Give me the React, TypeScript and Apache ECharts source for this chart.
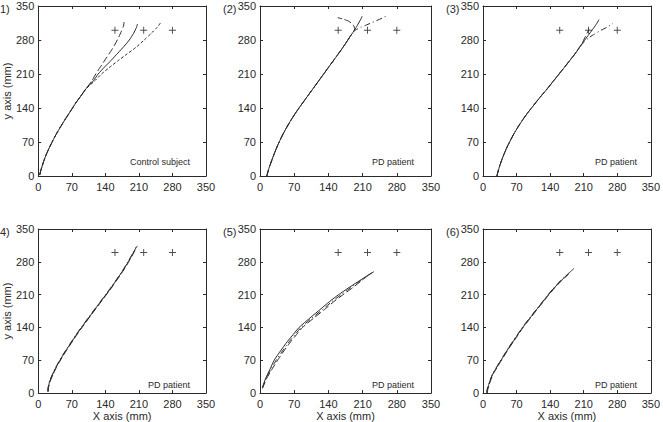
import React, { useEffect, useRef } from "react";
import * as echarts from "echarts";

// ---- tick labels / axes ----
const TICKS = [0, 70, 140, 210, 280, 350];
const PANEL_LABELS = ["1)", "(2)", "(3)", "4)", "(5)", "(6)"];
const NOTES = ["Control subject", "PD patient", "PD patient", "PD patient", "PD patient", "PD patient"];

// ---- target markers (+) ----
const targets: number[][] = [[160, 300], [220, 300], [280, 300]];

// ---- panel 1 (control subject) ----
const p1Common = [[3, 2], [5, 10], [8, 20], [12, 32], [17, 45], [23, 58], [30, 72], [38, 87], [47, 102], [57, 118], [67, 133], [78, 150], [89, 165], [100, 180]];
const p1Dashed = [[112, 196], [120, 210], [130, 225], [142, 243], [154, 261], [165, 280], [173, 297], [178, 309], [179, 317]];
const p1Solid = [[115, 196], [125, 210], [138, 224], [152, 238], [166, 253], [179, 267], [190, 280], [199, 294], [205, 306], [207, 313]];
const p1Dotted = [[117, 195], [132, 210], [148, 223], [166, 237], [185, 251], [204, 265], [221, 280], [236, 294], [248, 306], [255, 315]];

// ---- panel 2 ----
const p2Common = [[14, 0], [16, 8], [19, 18], [24, 32], [30, 48], [37, 65], [45, 82], [54, 99], [64, 116], [75, 133], [87, 150], [100, 168], [113, 186], [126, 204], [139, 222], [152, 240], [165, 258], [176, 274], [185, 288], [192, 298]];
const p2Solid = [[198, 308], [203, 317], [207, 324], [209, 329]];
const p2Dashed = [[194, 303], [192, 309], [188, 314], [181, 319], [170, 323], [159, 326]];
const p2DashDot = [[198, 302], [206, 306], [218, 311], [234, 318], [250, 325], [262, 331]];

// ---- panel 3 ----
const p3Common = [[29, 0], [31, 8], [34, 18], [38, 30], [43, 43], [49, 57], [56, 71], [64, 86], [73, 101], [83, 116], [94, 131], [106, 146], [118, 161], [131, 176], [144, 192], [157, 208], [170, 224], [182, 239], [193, 253], [202, 266]];
const p3Solid = [[210, 277], [219, 289], [228, 301], [236, 312], [242, 322]];
const p3Dashed = [[207, 274], [212, 284], [217, 294], [221, 302]];
const p3DashDot = [[209, 274], [220, 284], [232, 292], [246, 300], [258, 306], [271, 314]];

// ---- panel 4 ----
const p4Solid = [[20, 3], [20, 10], [22, 18], [25, 28], [30, 40], [36, 53], [43, 66], [51, 80], [61, 96], [72, 113], [84, 131], [96, 148], [109, 166], [122, 184], [136, 203], [150, 222], [163, 241], [175, 259], [186, 277], [196, 295], [204, 310], [207, 314]];
const p4Dashed = [[21, 3], [21, 10], [23, 18], [26, 28], [31, 40], [37, 53], [44, 66], [52, 80], [62, 96], [73, 113], [85, 131], [97, 148], [110, 166], [123, 184], [137, 203], [151, 222], [164, 241], [176, 259], [187, 277], [197, 295], [205, 311]];
const p4DashDot = [[20, 4], [21, 11], [22, 19], [25, 29], [30, 41], [36, 54], [43, 67], [51, 81], [61, 97], [72, 114], [84, 132], [96, 149], [109, 167], [122, 185], [136, 204], [150, 223], [163, 242], [175, 260], [186, 278], [196, 296], [204, 311]];

// ---- panel 5 ----
const p5Solid = [[5, 12], [11, 30], [20, 50], [29, 70], [42, 90], [56, 110], [68, 125], [80, 140], [102, 160], [125, 180], [142, 195], [161, 210], [182, 225], [204, 240], [219, 250], [233, 259]];
const p5Dashed = [[5, 10], [13, 30], [24, 50], [36, 70], [49, 90], [63, 110], [75, 125], [87, 140], [110, 160], [134, 180], [151, 195], [170, 210], [190, 225], [208, 240], [220, 250], [226, 254]];
const p5DashDot = [[5, 11], [12, 30], [22, 50], [33, 70], [46, 90], [60, 110], [72, 125], [84, 140], [106, 160], [130, 180], [147, 195], [166, 210], [186, 225], [206, 240], [219, 250], [229, 256]];

// ---- panel 6 ----
const p6Solid = [[8, 0], [9, 8], [12, 18], [16, 30], [21, 42], [28, 54], [35, 66], [43, 79], [52, 94], [62, 109], [72, 124], [82, 139], [94, 155], [107, 172], [121, 190], [135, 208], [149, 225], [163, 240], [177, 254], [190, 266]];
const p6Dashed = [[9, 0], [10, 8], [13, 18], [17, 30], [22, 42], [29, 54], [36, 66], [44, 79], [53, 94], [63, 109], [73, 124], [83, 139], [95, 155], [108, 172], [122, 190], [136, 208], [150, 225], [164, 240], [178, 253]];
const p6DashDot = [[8, 1], [9, 9], [12, 19], [16, 31], [21, 43], [28, 55], [35, 67], [43, 80], [52, 95], [62, 110], [72, 125], [82, 140], [94, 156], [107, 173], [121, 191], [135, 209], [149, 226], [163, 241], [180, 256]];

const panels = [
  { solid: [...p1Common, ...p1Solid], dashed: [...p1Common, ...p1Dashed], third: [...p1Common, ...p1Dotted], thirdType: [3, 2] },
  { solid: [...p2Common, ...p2Solid], dashed: [...p2Common, ...p2Dashed], third: [...p2Common, ...p2DashDot], thirdType: [6, 3, 1, 3] },
  { solid: [...p3Common, ...p3Solid], dashed: [...p3Common, ...p3Dashed], third: [...p3Common, ...p3DashDot], thirdType: [6, 3, 1, 3] },
  { solid: p4Solid, dashed: p4Dashed, third: p4DashDot, thirdType: [6, 3, 1, 3] },
  { solid: p5Solid, dashed: p5Dashed, third: p5DashDot, thirdType: [6, 3, 1, 3] },
  { solid: p6Solid, dashed: p6Dashed, third: p6DashDot, thirdType: [6, 3, 1, 3] },
];

const FONT = "'Liberation Sans', Arial, sans-serif";
const INK = "#2a2a2a";
const lefts = [36, 260, 483];
const widths = [170, 171, 170];
const tops = [6, 229];
const SIZE = 170;

const PLUS = "path://M4.3,0H5.7V4.3H10V5.7H5.7V10H4.3V5.7H0V4.3H4.3Z";

export default function App() {
  const ref = useRef<HTMLDivElement>(null);
  useEffect(() => {
    if (!ref.current) return;
    const chart = echarts.init(ref.current, undefined, { renderer: "svg" });
    const grid: any[] = [];
    const xAxis: any[] = [];
    const yAxis: any[] = [];
    const series: any[] = [];
    const graphic: any[] = [];
    const axisCommon = {
      type: "value",
      min: TICKS[0],
      max: TICKS[TICKS.length - 1],
      interval: TICKS[1] - TICKS[0],
      splitLine: { show: false },
      axisLine: { show: true, onZero: false, lineStyle: { color: INK, width: 1 } },
      axisTick: { show: true, inside: true, length: 3, lineStyle: { color: INK, width: 1 } },
    };
    panels.forEach((p, i) => {
      const row = Math.floor(i / 3);
      const col = i % 3;
      const left = lefts[col];
      const top = tops[row];
      grid.push({ left, top, width: widths[col], height: SIZE, containLabel: false });
      const xb = xAxis.length;
      xAxis.push({
        ...axisCommon,
        gridIndex: i,
        position: "bottom",
        axisLabel: { color: INK, fontSize: 11, fontFamily: FONT, margin: 5 },
        name: row === 1 ? "X axis (mm)" : "",
        nameLocation: "middle",
        nameGap: 15,
        nameTextStyle: { color: INK, fontSize: 11, fontFamily: FONT },
      });
      xAxis.push({ ...axisCommon, gridIndex: i, position: "top", axisLabel: { show: false } });
      const yb = yAxis.length;
      yAxis.push({
        ...axisCommon,
        gridIndex: i,
        position: "left",
        axisLabel: { color: INK, fontSize: 11, fontFamily: FONT, margin: 4 },
        name: col === 0 ? "y axis (mm)" : "",
        nameLocation: "middle",
        nameGap: 22,
        nameTextStyle: { color: INK, fontSize: 11, fontFamily: FONT },
      });
      yAxis.push({ ...axisCommon, gridIndex: i, position: "right", axisLabel: { show: false } });
      const base = { type: "line", xAxisIndex: xb, yAxisIndex: yb, showSymbol: false, smooth: 0.2, silent: true };
      series.push({ ...base, data: p.dashed, lineStyle: { color: INK, width: 1, type: [7, 3] } });
      series.push({ ...base, data: p.third, lineStyle: { color: INK, width: 1, type: p.thirdType } });
      series.push({ ...base, data: p.solid, lineStyle: { color: INK, width: 1, type: "solid" } });
      series.push({
        type: "scatter",
        xAxisIndex: xb,
        yAxisIndex: yb,
        data: targets,
        symbol: PLUS,
        symbolSize: 7,
        itemStyle: { color: "#222" },
        silent: true,
      });
      graphic.push({
        type: "text",
        left: col === 0 ? 0 : left - 37,
        top: top - 3,
        style: { text: PANEL_LABELS[i], fill: INK, font: `11px ${FONT}` },
      });
      graphic.push({
        type: "text",
        x: left + (i === 0 ? 124 : 133),
        y: top + 156,
        style: { text: NOTES[i], fill: INK, font: `9px ${FONT}`, align: "center", verticalAlign: "middle" },
      });
    });
    chart.setOption({
      animation: false,
      backgroundColor: "#ffffff",
      grid,
      xAxis,
      yAxis,
      series,
      graphic,
    });
    return () => chart.dispose();
  }, []);
  return (
    <div
      ref={ref}
      style={{ position: "fixed", left: 0, top: 0, width: 663, height: 422, background: "#fff" }}
    />
  );
}
